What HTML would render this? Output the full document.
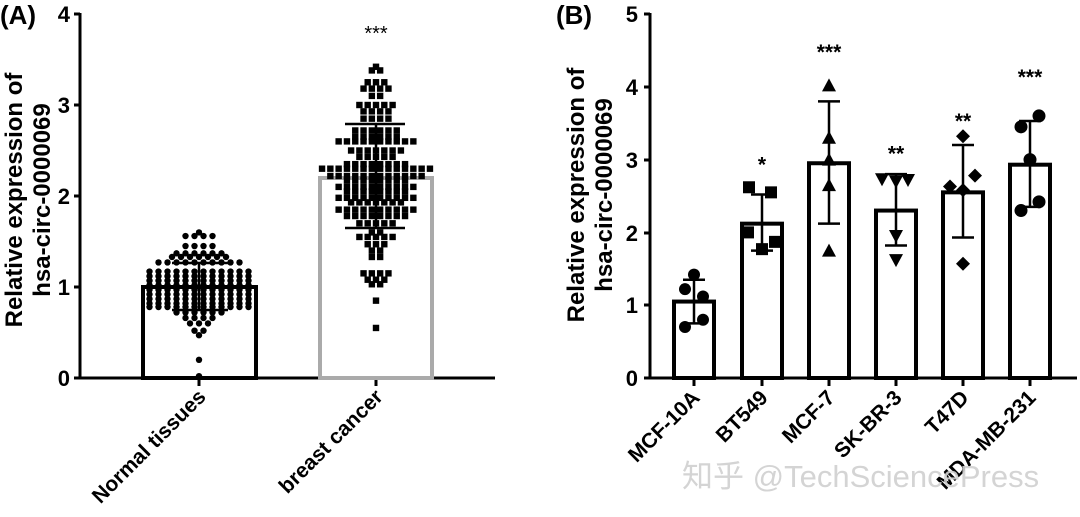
<!DOCTYPE html>
<html><head><meta charset="utf-8"><style>
html,body{margin:0;padding:0;background:#fff;}
svg{display:block;font-family:"Liberation Sans",Arial,sans-serif;font-weight:bold;}
</style></head><body>
<svg id="s" width="1080" height="517" viewBox="0 0 1080 517">
<rect width="1080" height="517" fill="#fff"/>
<text x="0" y="24" font-size="26">(A)</text>
<text x="556" y="24" font-size="26">(B)</text>
<g stroke="#000" stroke-width="3" fill="none">
<line x1="80" y1="13" x2="80" y2="379"/>
<line x1="74" y1="378" x2="495" y2="378"/>
<line x1="74" y1="14" x2="80" y2="14"/><line x1="74" y1="105" x2="80" y2="105"/><line x1="74" y1="196" x2="80" y2="196"/><line x1="74" y1="287" x2="80" y2="287"/>
<line x1="199" y1="378" x2="199" y2="386"/><line x1="376" y1="378" x2="376" y2="386"/>
<rect x="143" y="287" width="113" height="91" stroke-width="4"/>
<rect x="320" y="178" width="112" height="200" stroke="#aaa" stroke-width="4"/>
</g>
<g font-size="22" text-anchor="end">
<text x="70" y="22">4</text><text x="70" y="113">3</text><text x="70" y="204">2</text><text x="70" y="295">1</text><text x="70" y="386">0</text>
</g>
<text x="376" y="40" font-size="20" text-anchor="middle" font-weight="normal">***</text>
<g id="ptsA"></g>
<g stroke="#000" stroke-width="2.5">
<line x1="199" y1="263" x2="199" y2="310"/><line x1="172" y1="263" x2="228" y2="263"/><line x1="172" y1="310" x2="228" y2="310"/>
<line x1="376" y1="124" x2="376" y2="228"/><line x1="345" y1="124" x2="405" y2="124"/><line x1="345" y1="228" x2="405" y2="228"/>
</g>
<g font-size="24" text-anchor="middle">
<text transform="translate(22,200) rotate(-90)">Relative expression of</text>
<text transform="translate(50,200) rotate(-90)">hsa-circ-0000069</text>
<text transform="translate(584,195) rotate(-90)">Relative expression of</text>
<text transform="translate(612,195) rotate(-90)">hsa-circ-0000069</text>
</g>
<g font-size="21" text-anchor="end">
<text transform="translate(207,398) rotate(-45)">Normal tissues</text>
<text transform="translate(384,398) rotate(-45)">breast cancer</text>
</g>
<g stroke="#000" stroke-width="3" fill="none">
<line x1="650" y1="13" x2="650" y2="379"/>
<line x1="644" y1="378" x2="1077" y2="378"/>
<line x1="644" y1="14" x2="650" y2="14"/><line x1="644" y1="87" x2="650" y2="87"/><line x1="644" y1="160" x2="650" y2="160"/><line x1="644" y1="233" x2="650" y2="233"/><line x1="644" y1="305" x2="650" y2="305"/>
</g>
<g font-size="22" text-anchor="end">
<text x="638" y="22">5</text><text x="638" y="95">4</text><text x="638" y="168">3</text><text x="638" y="241">2</text><text x="638" y="313">1</text><text x="638" y="386">0</text>
</g>
<g id="B"></g>
<text x="682" y="487" font-size="31" font-weight="normal" fill="#d0d0d0" font-family="'Liberation Sans','Noto Sans CJK SC',sans-serif" opacity="0.9">知乎 @TechSciencePress</text>
</svg>
<script>
var NS="http://www.w3.org/2000/svg";
function el(p,t,a){var e=document.createElementNS(NS,t);for(var k in a)e.setAttribute(k,a[k]);p.appendChild(e);return e;}
var gA=document.getElementById('ptsA');
function yA(v){return 378-v*91;}
var nr=[[1.6,1],[1.56,4],[1.45,4],[1.37,6],[1.33,7],[1.27,10],[1.17,12],[1.12,12],[1.07,12],[1.02,12],[0.97,12],[0.92,12],[0.87,12],[0.82,12],[0.78,12],[0.72,6],[0.66,4],[0.6,3],[0.52,2],[0.47,1],[0.2,1],[0.02,1]];
nr.forEach(function(r){for(var i=0;i<r[1];i++){var x=199+(i-(r[1]-1)/2)*9;el(gA,'circle',{cx:x,cy:yA(r[0]),r:3.2,fill:'#000'});}});
var cr=[[3.42,1],[3.38,2],[3.25,3],[3.18,4],[3.1,2],[3.0,5],[2.93,4],[2.85,4],[2.72,6],[2.65,6],[2.6,10],[2.5,7],[2.43,5],[2.35,8],[2.3,14],[2.22,12],[2.17,8],[2.1,10],[2.05,8],[1.98,10],[1.93,7],[1.85,10],[1.78,8],[1.7,5],[1.6,2],[1.55,5],[1.47,3],[1.4,2],[1.33,2],[1.15,4],[1.08,3],[1.03,2],[0.85,1],[0.55,1]];
cr.forEach(function(r){for(var i=0;i<r[1];i++){var x=376+(i-(r[1]-1)/2)*8.3;el(gA,'rect',{x:x-3.2,y:yA(r[0])-3.2,width:6.4,height:6.4,fill:'#000'});}});
var gB=document.getElementById('B');
function yB(v){return 378-v*72.8;}
var cs=[694,762,829,896,963,1030];
var names=["MCF-10A","BT549","MCF-7","SK-BR-3","T47D","MDA-MB-231"];
var vals=[1.05,2.12,2.95,2.3,2.55,2.93];
var err=[[0.75,1.35],[1.75,2.52],[2.12,3.8],[1.82,2.8],[1.93,3.2],[2.35,3.53]];
var stars=["","*","***","**","**","***"];
var starY=[0,3.0,4.55,3.15,3.6,4.2];
var pts=[
 [[0,1.42],[-9,1.22],[9,1.12],[9,0.8],[-9,0.7]],
 [[-13,2.62],[9,2.55],[-14,2.0],[13,1.87],[0,1.77]],
 [[0,4.02],[0,3.3],[0,3.0],[0,2.65],[0,1.75]],
 [[-14,2.73],[0,2.7],[12,2.72],[0,1.95],[0,1.62]],
 [[0,3.32],[-13,2.63],[12,2.78],[0,2.58],[0,1.57]],
 [[9,3.6],[-9,3.45],[0,3.0],[9,2.42],[-9,2.3]]];
cs.forEach(function(c,i){
 el(gB,'rect',{x:c-20,y:yB(vals[i]),width:40,height:378-yB(vals[i]),fill:'none',stroke:'#000','stroke-width':4});
 el(gB,'line',{x1:c,y1:378,x2:c,y2:386,stroke:'#000','stroke-width':3});
 pts[i].forEach(function(p){var x=c+p[0],y=yB(p[1]);
  if(i==0||i==5)el(gB,'circle',{cx:x,cy:y,r:i==5?6.5:6,fill:'#000'});
  else if(i==1)el(gB,'rect',{x:x-6,y:y-6,width:12,height:12,fill:'#000'});
  else if(i==2)el(gB,'polygon',{points:(x-7)+','+(y+6)+' '+(x+7)+','+(y+6)+' '+x+','+(y-7),fill:'#000'});
  else if(i==3)el(gB,'polygon',{points:(x-7)+','+(y-6)+' '+(x+7)+','+(y-6)+' '+x+','+(y+7),fill:'#000'});
  else el(gB,'polygon',{points:x+','+(y-7)+' '+(x+7)+','+y+' '+x+','+(y+7)+' '+(x-7)+','+y,fill:'#000'});
 });
 var e=err[i];
 el(gB,'line',{x1:c,y1:yB(e[0]),x2:c,y2:yB(e[1]),stroke:'#000','stroke-width':2.5});
 el(gB,'line',{x1:c-11,y1:yB(e[0]),x2:c+11,y2:yB(e[0]),stroke:'#000','stroke-width':2.5});
 el(gB,'line',{x1:c-11,y1:yB(e[1]),x2:c+11,y2:yB(e[1]),stroke:'#000','stroke-width':2.5});
 if(stars[i]){var t=el(gB,'text',{x:c,y:yB(starY[i])+12,'font-size':21,'text-anchor':'middle'});t.textContent=stars[i];}
 var l=el(gB,'text',{transform:'translate('+(c+7)+',399) rotate(-45)','font-size':21,'text-anchor':'end'});l.textContent=names[i];
});
</script>
</body></html>
